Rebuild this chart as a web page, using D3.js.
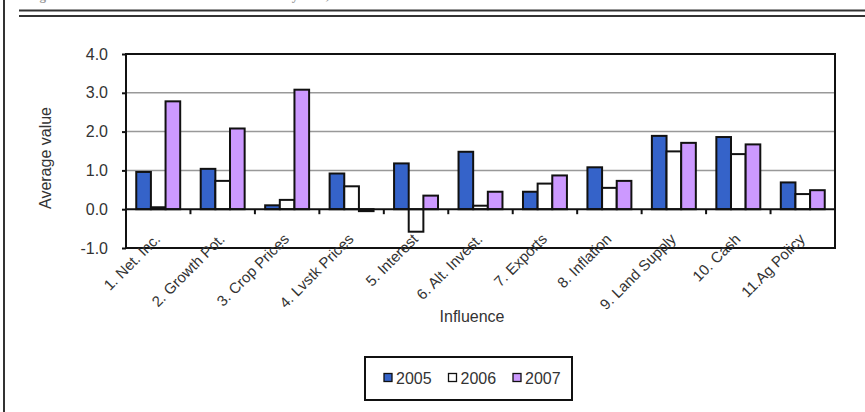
<!DOCTYPE html>
<html>
<head>
<meta charset="utf-8">
<script src="https://cdn.jsdelivr.net/npm/d3@7"></script>
<style>
  body { margin: 0; background: #fff; }
  svg { display: block; }
  text { font-family: "Liberation Sans", Arial, sans-serif; fill: #222; }
</style>
</head>
<body>
<svg id="chart" width="865" height="412"></svg>
<script>
// Average influence scores by factor and survey year
const categories = ["1. Net. Inc.", "2. Growth Pot.", "3. Crop Prices", "4. Lvstk Prices", "5. Interest",
  "6. Alt. Invest.", "7. Exports", "8. Inflation", "9. Land Supply", "10. Cash", "11.Ag Policy"];
const years = ["2005", "2006", "2007"];
const values2005 = [0.96, 1.04, 0.10, 0.92, 1.18, 1.48, 0.45, 1.08, 1.89, 1.86, 0.69];
const values2006 = [0.05, 0.73, 0.24, 0.59, -0.58, 0.09, 0.66, 0.55, 1.49, 1.42, 0.39];
const values2007 = [2.78, 2.08, 3.08, -0.05, 0.35, 0.45, 0.87, 0.73, 1.71, 1.67, 0.49];
const yTicks = [-1, 0, 1, 2, 3, 4];
const yTickLabels = ["-1.0", "0.0", "1.0", "2.0", "3.0", "4.0"];
const seriesColors = ["#3563C9", "#FFFFFF", "#CC99FF"];

const seriesByYear = { "2005": values2005, "2006": values2006, "2007": values2007 };
const rows = categories.map((c, i) => ({ cat: c, vals: years.map(yr => ({ year: yr, v: seriesByYear[yr][i] })) }));

const svg = d3.select("#chart");
const plot = { left: 126, right: 835, top: 54, bottom: 248 };

const x0 = d3.scaleBand().domain(categories).range([plot.left, plot.right]);
const x1 = d3.scaleBand().domain(years).range([0, x0.bandwidth()]).paddingInner(0).paddingOuter(0.7);
const y = d3.scaleLinear().domain([-1, 4]).range([plot.bottom, plot.top]);
const color = d3.scaleOrdinal().domain(years).range(seriesColors);

// Page frame: caption running off the top edge, left rule and double rule
svg.append("text").attr("x", 28).attr("y", -0.5)
  .style("font-family", "'Liberation Serif', 'Times New Roman', serif")
  .style("font-weight", "bold").style("font-size", "13px").style("fill", "#999")
  .text("Figure 3.  Influence of Factors on Land Values by Year, 2005-2007");
svg.append("line").attr("x1", 4).attr("x2", 4).attr("y1", 0).attr("y2", 412)
  .attr("stroke", "#333").attr("stroke-width", 2);
[10.5, 16].forEach(yy => svg.append("line").attr("x1", 19).attr("x2", 865)
  .attr("y1", yy).attr("y2", yy).attr("stroke", "#333").attr("stroke-width", 1.8));

// Gridlines
svg.append("g").selectAll("line").data([1, 2, 3]).join("line")
  .attr("x1", plot.left).attr("x2", plot.right)
  .attr("y1", d => y(d)).attr("y2", d => y(d))
  .attr("stroke", "#999").attr("stroke-width", 1.5);

// Bars
const groups = svg.append("g").selectAll("g").data(rows).join("g")
  .attr("transform", d => `translate(${x0(d.cat)},0)`);
groups.selectAll("rect").data(d => d.vals).join("rect")
  .attr("x", d => x1(d.year))
  .attr("width", x1.bandwidth())
  .attr("y", d => y(Math.max(0, d.v)))
  .attr("height", d => Math.abs(y(d.v) - y(0)))
  .attr("fill", d => color(d.year))
  .attr("stroke", "#111").attr("stroke-width", 2);

// Zero line with category tick marks
svg.append("line").attr("x1", plot.left).attr("x2", plot.right)
  .attr("y1", y(0)).attr("y2", y(0)).attr("stroke", "#111").attr("stroke-width", 2);
const xAxis = d3.axisBottom(x0).tickSize(0).tickFormat("");
svg.append("g").attr("transform", `translate(0,${y(0)})`).call(xAxis).call(g => g.select(".domain").remove());
svg.append("g").selectAll("line").data(categories.slice(1)).join("line")
  .attr("x1", d => x0(d)).attr("x2", d => x0(d))
  .attr("y1", y(0)).attr("y2", y(0) + 5)
  .attr("stroke", "#111").attr("stroke-width", 2);

// Plot frame
svg.append("rect").attr("x", plot.left).attr("y", plot.top)
  .attr("width", plot.right - plot.left).attr("height", plot.bottom - plot.top)
  .attr("fill", "none").attr("stroke", "#111").attr("stroke-width", 2);

// Y axis
const yAxis = d3.axisLeft(y).tickValues(yTicks).tickSize(4).tickPadding(14)
  .tickFormat((d, i) => yTickLabels[i]);
svg.append("g").attr("transform", `translate(${plot.left},0)`).call(yAxis)
  .call(g => g.select(".domain").remove())
  .call(g => g.selectAll("line").attr("stroke", "#111").attr("stroke-width", 2))
  .call(g => g.selectAll("text").style("font-size", "16px").style("fill", "#333")
    .style("font-family", "'Liberation Sans', Arial, sans-serif"));

svg.append("text")
  .attr("transform", `translate(51,158) rotate(-90)`)
  .attr("text-anchor", "middle").style("font-size", "16px").style("fill", "#333")
  .text("Average value");

// Category labels
svg.append("g").selectAll("text").data(categories).join("text")
  .attr("transform", d => `translate(${x0(d) + x0.bandwidth() / 2 + 3},240) rotate(-45)`)
  .attr("text-anchor", "end").style("font-size", "15px").style("fill", "#333")
  .text(d => d);

svg.append("text").attr("x", 472).attr("y", 322).attr("text-anchor", "middle")
  .style("font-size", "16px").style("fill", "#333").text("Influence");

// Legend
const legend = svg.append("g");
legend.append("rect").attr("x", 365).attr("y", 357).attr("width", 207).attr("height", 43)
  .attr("fill", "#fff").attr("stroke", "#111").attr("stroke-width", 2);
const items = legend.selectAll("g").data(years).join("g")
  .attr("transform", (d, i) => `translate(${384 + i * 64.5},0)`);
items.append("rect").attr("x", 0).attr("y", 373.5).attr("width", 8).attr("height", 8)
  .attr("fill", d => color(d)).attr("stroke", "#111").attr("stroke-width", 1.3);
items.append("text").attr("x", 12).attr("y", 383.5).style("font-size", "16px")
  .style("fill", "#333").text(d => d);
</script>
</body>
</html>
